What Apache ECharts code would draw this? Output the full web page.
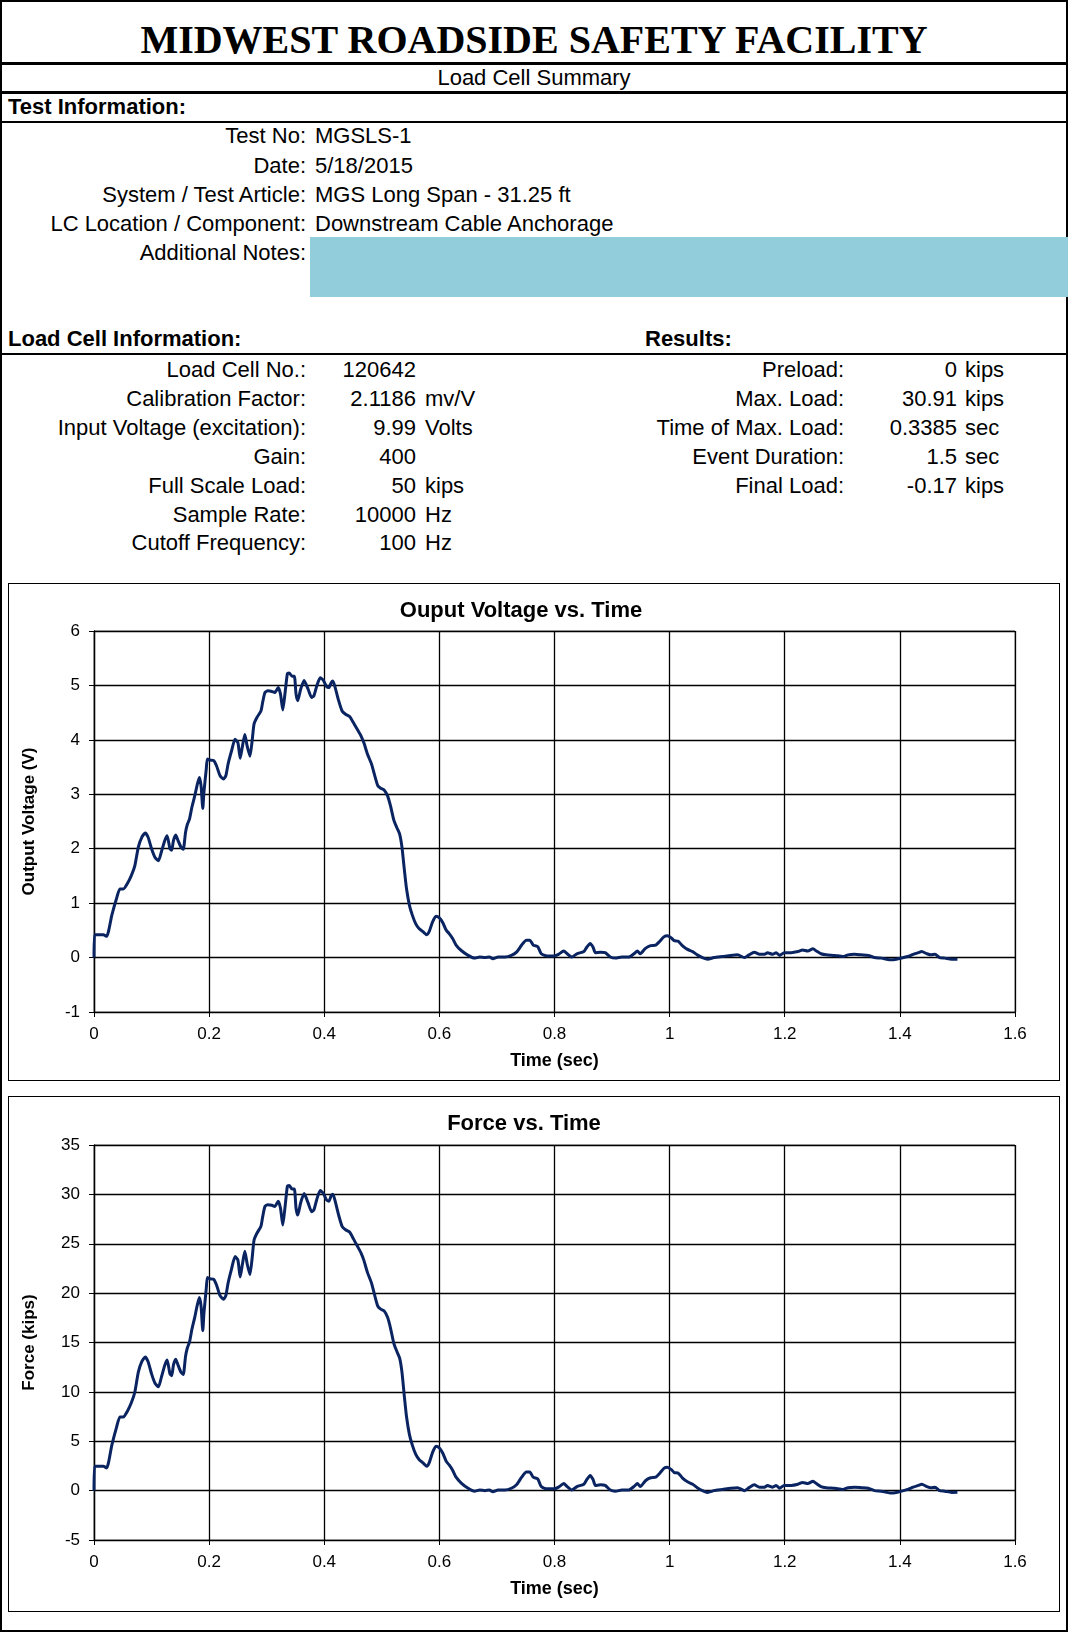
<!DOCTYPE html>
<html>
<head>
<meta charset="utf-8">
<script src="https://cdn.jsdelivr.net/npm/echarts@6/dist/echarts.min.js"></script>
<style>
  html, body { margin: 0; padding: 0; background: #fff; }
  body { width: 1068px; height: 1632px; position: relative; overflow: hidden;
         font-family: "Liberation Sans", Arial, sans-serif; color: #000; }
  .t { position: absolute; height: 24px; line-height: 24px; font-size: 22px; white-space: nowrap; }
  .b { font-weight: bold; }
  .hl { position: absolute; left: 0; width: 1068px; background: #000; }
  .box { position: absolute; border: 1px solid #000; box-sizing: border-box; background: #fff; }
  .inner { position: absolute; left: 0; top: 0; right: 0; bottom: 0; }
</style>
</head>
<body>
<div style="position:absolute;left:0;top:0;width:1068px;height:1632px;border:2px solid #000;box-sizing:border-box;"></div>

<div class="t b" style="left:0;width:1068px;top:15px;height:50px;line-height:50px;text-align:center;font-family:'Liberation Serif','Times New Roman',serif;font-size:40px;">MIDWEST ROADSIDE SAFETY FACILITY</div>
<div class="hl" style="top:62px;height:3px;"></div>
<div class="t" style="left:0;width:1068px;top:66px;text-align:center;">Load Cell Summary</div>
<div class="hl" style="top:91px;height:3px;"></div>
<div class="t b" style="left:8px;top:95px;">Test Information:</div>
<div class="hl" style="top:121px;height:2px;"></div>

<div style="position:absolute;left:310px;top:237px;width:758px;height:60px;background:#92CDDC;"></div>

<div class="t b" style="left:8px;top:327px;">Load Cell Information:</div>
<div class="t b" style="left:645px;top:327px;">Results:</div>
<div class="hl" style="top:353px;height:2px;"></div>

<div class="box" style="left:8px;top:583px;width:1052px;height:498px;"><div class="inner" id="chart1"></div></div>
<div class="box" style="left:8px;top:1096px;width:1052px;height:516px;"><div class="inner" id="chart2"></div></div>

<script>
// ---------- text data ----------
const testLabels = ["Test No:", "Date:", "System / Test Article:", "LC Location / Component:", "Additional Notes:"];
const testValues = ["MGSLS-1", "5/18/2015", "MGS Long Span - 31.25 ft", "Downstream Cable Anchorage", ""];
const testRowTops = [124, 153.5, 182.5, 211.8, 241];

const lcLabels = ["Load Cell No.:", "Calibration Factor:", "Input Voltage (excitation):", "Gain:", "Full Scale Load:", "Sample Rate:", "Cutoff Frequency:"];
const lcNumbers = ["120642", "2.1186", "9.99", "400", "50", "10000", "100"];
const lcUnits = ["", "mv/V", "Volts", "", "kips", "Hz", "Hz"];
const resLabels = ["Preload:", "Max. Load:", "Time of Max. Load:", "Event Duration:", "Final Load:"];
const resNumbers = ["0", "30.91", "0.3385", "1.5", "-0.17"];
const resUnits = ["kips", "kips", "sec", "sec", "kips"];
const lcRowTops = [358, 387, 416, 445, 474, 502.5, 531];

// ---------- chart data (time s, value) ----------
const voltageData = [
 [0,0],[0.001,0.42],[0.016,0.42],[0.022,0.39],[0.031,0.78],[0.039,1.08],[0.045,1.26],[0.051,1.26],
 [0.058,1.36],[0.065,1.51],[0.071,1.69],[0.077,2.03],[0.083,2.21],[0.089,2.29],[0.094,2.21],[0.100,2.00],
 [0.106,1.84],[0.112,1.78],[0.117,1.94],[0.123,2.15],[0.127,2.24],[0.132,2.00],[0.135,1.97],[0.138,2.15],
 [0.142,2.25],[0.146,2.15],[0.151,2.03],[0.155,1.99],[0.159,2.30],[0.162,2.44],[0.166,2.55],[0.170,2.76],
 [0.175,2.97],[0.179,3.16],[0.183,3.31],[0.186,3.16],[0.189,2.74],[0.191,3.04],[0.195,3.46],[0.197,3.65],
 [0.201,3.63],[0.208,3.62],[0.213,3.52],[0.219,3.34],[0.225,3.28],[0.229,3.34],[0.233,3.56],[0.239,3.80],
 [0.245,4.01],[0.250,3.95],[0.254,3.66],[0.258,3.89],[0.262,4.10],[0.266,3.89],[0.271,3.70],[0.275,4.01],
 [0.278,4.29],[0.283,4.41],[0.290,4.53],[0.293,4.69],[0.297,4.87],[0.302,4.90],[0.309,4.89],[0.314,4.87],
 [0.320,4.96],[0.324,4.84],[0.328,4.55],[0.332,4.87],[0.336,5.22],[0.339,5.23],[0.344,5.17],[0.348,5.17],
 [0.351,4.84],[0.354,4.72],[0.359,4.93],[0.365,5.09],[0.372,4.93],[0.378,4.78],[0.382,4.81],[0.387,4.99],
 [0.393,5.14],[0.398,5.10],[0.404,4.98],[0.408,4.96],[0.412,5.05],[0.415,5.08],[0.419,4.96],[0.425,4.72],
 [0.431,4.53],[0.437,4.47],[0.444,4.43],[0.451,4.31],[0.457,4.20],[0.464,4.07],[0.469,3.94],[0.475,3.74],
 [0.482,3.56],[0.487,3.37],[0.493,3.16],[0.498,3.11],[0.504,3.08],[0.510,2.97],[0.515,2.79],[0.521,2.52],
 [0.526,2.39],[0.531,2.27],[0.535,2.03],[0.539,1.63],[0.543,1.26],[0.548,0.96],[0.553,0.78],[0.559,0.62],
 [0.565,0.53],[0.571,0.48],[0.578,0.42],[0.582,0.47],[0.588,0.65],[0.594,0.76],[0.600,0.73],[0.606,0.64],
 [0.612,0.50],[0.617,0.44],[0.623,0.35],[0.629,0.23],[0.638,0.13],[0.650,0.04],[0.661,-0.01],[0.670,0.01],
 [0.679,0.00],[0.687,0.01],[0.693,-0.02],[0.702,0.01],[0.714,0.01],[0.725,0.04],[0.734,0.10],[0.743,0.23],
 [0.751,0.32],[0.757,0.32],[0.763,0.23],[0.771,0.20],[0.777,0.07],[0.787,0.03],[0.800,0.03],[0.807,0.06],
 [0.816,0.12],[0.822,0.07],[0.830,0.01],[0.839,0.07],[0.851,0.11],[0.856,0.19],[0.862,0.26],[0.867,0.19],
 [0.871,0.09],[0.880,0.10],[0.888,0.09],[0.897,0.01],[0.906,-0.01],[0.917,0.01],[0.929,0.01],[0.938,0.07],
 [0.944,0.12],[0.949,0.07],[0.958,0.17],[0.967,0.22],[0.976,0.23],[0.983,0.30],[0.990,0.38],[0.996,0.40],
 [1.003,0.36],[1.008,0.31],[1.015,0.30],[1.022,0.22],[1.031,0.15],[1.040,0.11],[1.048,0.05],[1.057,0.00],
 [1.066,-0.03],[1.077,0.00],[1.092,0.02],[1.106,0.04],[1.118,0.05],[1.130,0.00],[1.138,0.05],[1.147,0.10],
 [1.156,0.06],[1.165,0.06],[1.170,0.09],[1.179,0.06],[1.185,0.09],[1.191,0.04],[1.199,0.09],[1.211,0.09],
 [1.223,0.11],[1.231,0.14],[1.240,0.12],[1.249,0.16],[1.255,0.12],[1.263,0.07],[1.272,0.05],[1.287,0.04],
 [1.301,0.02],[1.310,0.05],[1.321,0.06],[1.333,0.05],[1.345,0.04],[1.356,0.00],[1.368,-0.01],[1.383,-0.04],
 [1.394,-0.03],[1.406,0.00],[1.414,0.02],[1.423,0.06],[1.432,0.09],[1.438,0.11],[1.447,0.07],[1.454,0.05],
 [1.461,0.06],[1.469,0.00],[1.478,-0.01],[1.490,-0.03],[1.500,-0.03]
];

const forceData = [
 [0,0],[0.001,2.48],[0.016,2.48],[0.022,2.30],[0.031,4.61],[0.039,6.38],[0.045,7.45],[0.051,7.45],
 [0.058,8.04],[0.065,8.92],[0.071,9.99],[0.077,12.00],[0.083,13.06],[0.089,13.53],[0.094,13.06],[0.100,11.82],
 [0.106,10.87],[0.112,10.52],[0.117,11.47],[0.123,12.71],[0.127,13.24],[0.132,11.82],[0.135,11.64],[0.138,12.71],
 [0.142,13.30],[0.146,12.71],[0.151,12.00],[0.155,11.76],[0.159,13.59],[0.162,14.42],[0.166,15.07],[0.170,16.31],
 [0.175,17.55],[0.179,18.68],[0.183,19.56],[0.186,18.68],[0.189,16.19],[0.191,17.97],[0.195,20.45],[0.197,21.57],
 [0.201,21.45],[0.208,21.39],[0.213,20.80],[0.219,19.74],[0.225,19.38],[0.229,19.74],[0.233,21.04],[0.239,22.46],
 [0.245,23.70],[0.250,23.34],[0.254,21.63],[0.258,22.99],[0.262,24.23],[0.266,22.99],[0.271,21.87],[0.275,23.70],
 [0.278,25.35],[0.283,26.06],[0.290,26.77],[0.293,27.72],[0.297,28.78],[0.302,28.96],[0.309,28.90],[0.314,28.78],
 [0.320,29.31],[0.324,28.60],[0.328,26.89],[0.332,28.78],[0.336,30.85],[0.339,30.91],[0.344,30.55],[0.348,30.55],
 [0.351,28.60],[0.354,27.90],[0.359,29.14],[0.365,30.08],[0.372,29.14],[0.378,28.25],[0.382,28.43],[0.387,29.49],
 [0.393,30.38],[0.398,30.14],[0.404,29.43],[0.408,29.31],[0.412,29.85],[0.415,30.02],[0.419,29.31],[0.425,27.90],
 [0.431,26.77],[0.437,26.42],[0.444,26.18],[0.451,25.47],[0.457,24.82],[0.464,24.05],[0.469,23.29],[0.475,22.10],
 [0.482,21.04],[0.487,19.92],[0.493,18.68],[0.498,18.38],[0.504,18.20],[0.510,17.55],[0.515,16.49],[0.521,14.89],
 [0.526,14.12],[0.531,13.42],[0.535,12.00],[0.539,9.63],[0.543,7.45],[0.548,5.67],[0.553,4.61],[0.559,3.66],
 [0.565,3.13],[0.571,2.84],[0.578,2.48],[0.582,2.78],[0.588,3.84],[0.594,4.49],[0.600,4.31],[0.606,3.78],
 [0.612,2.96],[0.617,2.60],[0.623,2.07],[0.629,1.36],[0.638,0.77],[0.650,0.24],[0.661,-0.06],[0.670,0.06],
 [0.679,0.00],[0.687,0.06],[0.693,-0.12],[0.702,0.06],[0.714,0.06],[0.725,0.24],[0.734,0.59],[0.743,1.36],
 [0.751,1.89],[0.757,1.89],[0.763,1.36],[0.771,1.18],[0.777,0.41],[0.787,0.18],[0.800,0.18],[0.807,0.35],
 [0.816,0.71],[0.822,0.41],[0.830,0.06],[0.839,0.41],[0.851,0.65],[0.856,1.12],[0.862,1.54],[0.867,1.12],
 [0.871,0.53],[0.880,0.59],[0.888,0.53],[0.897,0.06],[0.906,-0.06],[0.917,0.06],[0.929,0.06],[0.938,0.41],
 [0.944,0.71],[0.949,0.41],[0.958,1.00],[0.967,1.30],[0.976,1.36],[0.983,1.77],[0.990,2.25],[0.996,2.36],
 [1.003,2.13],[1.008,1.83],[1.015,1.77],[1.022,1.30],[1.031,0.89],[1.040,0.65],[1.048,0.30],[1.057,0.00],
 [1.066,-0.18],[1.077,0.00],[1.092,0.12],[1.106,0.24],[1.118,0.30],[1.130,0.00],[1.138,0.30],[1.147,0.59],
 [1.156,0.35],[1.165,0.35],[1.170,0.53],[1.179,0.35],[1.185,0.53],[1.191,0.24],[1.199,0.53],[1.211,0.53],
 [1.223,0.65],[1.231,0.83],[1.240,0.71],[1.249,0.95],[1.255,0.71],[1.263,0.41],[1.272,0.30],[1.287,0.24],
 [1.301,0.12],[1.310,0.30],[1.321,0.35],[1.333,0.30],[1.345,0.24],[1.356,0.00],[1.368,-0.06],[1.383,-0.24],
 [1.394,-0.18],[1.406,0.00],[1.414,0.12],[1.423,0.35],[1.432,0.53],[1.438,0.65],[1.447,0.41],[1.454,0.30],
 [1.461,0.35],[1.469,0.00],[1.478,-0.06],[1.490,-0.18],[1.500,-0.17]
];

// ---------- build text table ----------
function addText(text, opts) {
  const d = document.createElement('div');
  d.className = 't';
  d.textContent = text;
  d.style.top = opts.top + 'px';
  if (opts.right !== undefined) { d.style.right = (1068 - opts.right) + 'px'; d.style.textAlign = 'right'; }
  else d.style.left = opts.left + 'px';
  document.body.appendChild(d);
}
testLabels.forEach((l, i) => {
  addText(l, { top: testRowTops[i], right: 306 });
  if (testValues[i]) addText(testValues[i], { top: testRowTops[i], left: 315 });
});
lcLabels.forEach((l, i) => {
  addText(l, { top: lcRowTops[i], right: 306 });
  addText(lcNumbers[i], { top: lcRowTops[i], right: 416 });
  if (lcUnits[i]) addText(lcUnits[i], { top: lcRowTops[i], left: 425 });
});
resLabels.forEach((l, i) => {
  addText(l, { top: lcRowTops[i], right: 844 });
  addText(resNumbers[i], { top: lcRowTops[i], right: 957 });
  addText(resUnits[i], { top: lcRowTops[i], left: 965 });
});

// ---------- charts ----------
const FONT = '"Liberation Sans", Arial, sans-serif';
function makeOption(title, titleX, yName, yMin, yMax, yInt, gridTop, gridBottom, data) {
  return {
    animation: false,
    title: {
      text: title, left: titleX, top: 11, textAlign: 'center',
      textStyle: { fontFamily: FONT, fontSize: 22, fontWeight: 'bold', color: '#000' }
    },
    grid: { left: 85, right: 44, top: gridTop, bottom: gridBottom, show: true,
            borderColor: '#808080', borderWidth: 1, backgroundColor: 'transparent' },
    xAxis: {
      type: 'value', min: 0, max: 1.6, interval: 0.2,
      name: 'Time (sec)', nameLocation: 'middle', nameGap: 40,
      nameTextStyle: { fontFamily: FONT, fontSize: 18, fontWeight: 'bold', color: '#000' },
      axisLine: { show: true, onZero: false, lineStyle: { color: '#000', width: 1 } },
      axisTick: { show: true, inside: false, length: 5, lineStyle: { color: '#000' } },
      axisLabel: { margin: 14, fontFamily: FONT, fontSize: 17, color: '#000',
                   formatter: v => String(+v.toFixed(1)) },
      splitLine: { show: true, lineStyle: { color: '#000', width: 1.3 } }
    },
    yAxis: {
      type: 'value', min: yMin, max: yMax, interval: yInt,
      name: yName, nameLocation: 'middle', nameGap: 56, nameRotate: 90,
      nameTextStyle: { fontFamily: FONT, fontSize: 17, fontWeight: 'bold', color: '#000' },
      axisLine: { show: true, onZero: false, lineStyle: { color: '#000', width: 1.3 } },
      axisTick: { show: true, inside: false, length: 5, lineStyle: { color: '#000' } },
      axisLabel: { margin: 14, fontFamily: FONT, fontSize: 17, color: '#000' },
      splitLine: { show: true, lineStyle: { color: '#000', width: 1.3 } }
    },
    series: [{
      type: 'line', data: data, showSymbol: false, smooth: 0.2,
      lineStyle: { color: '#0a2462', width: 3 }, z: 5
    }]
  };
}
const c1 = echarts.init(document.getElementById('chart1'));
c1.setOption(makeOption('Ouput Voltage vs. Time', 507, 'Output Voltage (V)', -1, 6, 1, 47, 68, voltageData));
const c2 = echarts.init(document.getElementById('chart2'));
c2.setOption(makeOption('Force vs. Time', 510, 'Force (kips)', -5, 35, 5, 48, 71, forceData));
</script>
</body>
</html>
